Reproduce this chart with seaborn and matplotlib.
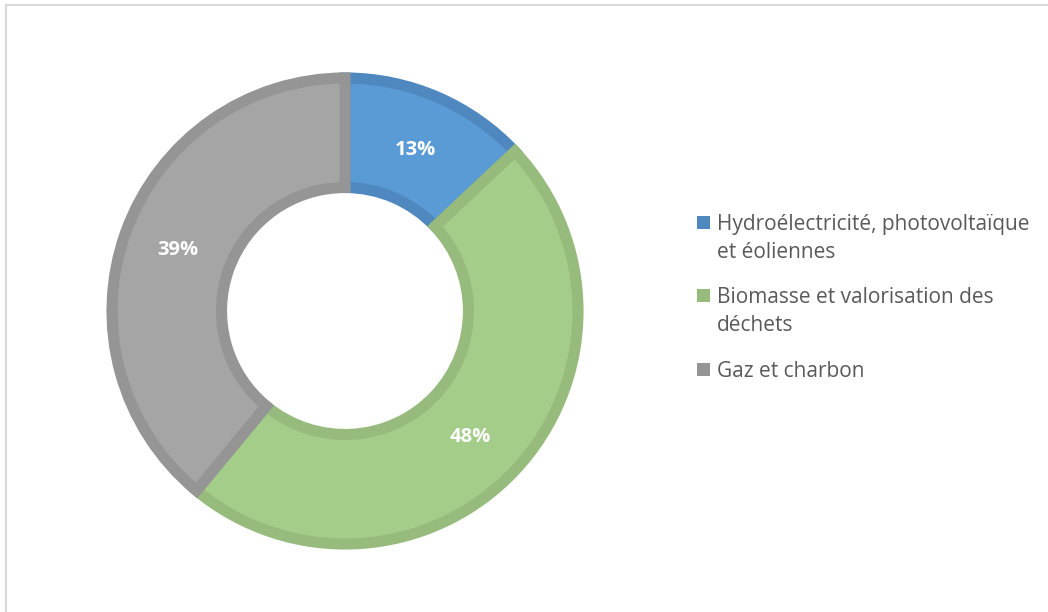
import matplotlib
matplotlib.use("Agg")
import matplotlib.pyplot as plt
import seaborn as sns
from matplotlib.lines import Line2D
from matplotlib.patches import Rectangle

# energy mix shares (%)
categories = ["Hydroélectricité, photovoltaïque\net éoliennes",
              "Biomasse et valorisation des\ndéchets",
              "Gaz et charbon"]
shares = [13, 48, 39]
fills = ["#5B9BD5", "#A5CD8A", "#A5A5A5"]
edges = ["#4F88BE", "#96BB7C", "#959595"]

sns.set_theme(style="white")
plt.rcParams['font.family'] = ['Open Sans', 'DejaVu Sans']

W, H = 1048, 612
fig = plt.figure(figsize=(W / 100, H / 100), dpi=100)
# square axes centred on the donut (px 345, 311), radius ~233 px
R = 233
ax = fig.add_axes([(345 - R) / W, (H - 311 - R) / H, 2 * R / W, 2 * R / H])

wedges, _ = ax.pie(shares, colors=fills, startangle=90, counterclock=False,
                   radius=1, wedgeprops=dict(width=0.47, linewidth=8))
for w, ec in zip(wedges, edges):
    w.set_edgecolor(ec)

# percentage labels
label_pos = [(415, 150), (470, 437), (178, 250)]
for (px, py), v in zip(label_pos, shares):
    ax.text((px - 345) / R, (311 - py) / R, f"{v}%", color="white", fontsize=14.5,
            fontweight="bold", ha="center", va="center")
ax.set_xlim(-1, 1)
ax.set_ylim(-1, 1)
ax.set_aspect("equal")
ax.axis("off")

# legend: square marker aligned with the first line of each label
baselines = [230, 303, 377]
for lab, c, yb in zip(categories, edges, baselines):
    fig.add_artist(Rectangle((697 / W, 1 - (yb - 1) / H), 13 / W, 13 / H,
                             transform=fig.transFigure, facecolor=c, edgecolor="none"))
    for i, line in enumerate(lab.split("\n")):
        fig.text(717 / W, 1 - (yb + 28 * i) / H, line, fontsize=15, color="#595959",
                 ha="left", va="baseline")

# light outer frame (top and left edges visible)
fig.add_artist(Line2D([6 / W, 6 / W], [0, 1 - 5 / H], transform=fig.transFigure,
                      color="#D9D9D9", lw=1.5))
fig.add_artist(Line2D([6 / W, 1], [1 - 5 / H, 1 - 5 / H], transform=fig.transFigure,
                      color="#D9D9D9", lw=1.5))

fig.savefig("out.png", dpi=100, facecolor="white")
